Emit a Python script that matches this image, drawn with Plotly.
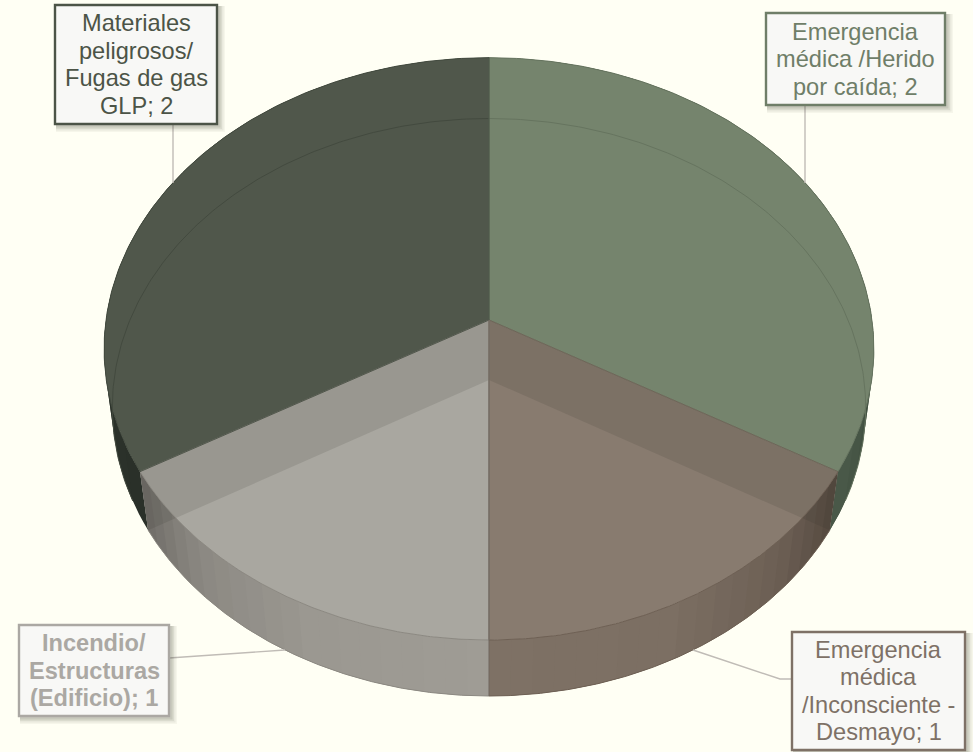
import numpy as np
import plotly.graph_objects as go

# ---- data ----
categories = ["Emergencia médica /Herido por caída", "Emergencia médica /Inconsciente - Desmayo",
              "Incendio/ Estructuras (Edificio)", "Materiales peligrosos/ Fugas de gas GLP"]
values = [2, 1, 1, 2]
label_lines = [["Emergencia", "médica /Herido", "por caída; 2"],
               ["Emergencia", "médica", "/Inconsciente -", "Desmayo; 1"],
               ["Incendio/", "Estructuras", "(Edificio); 1"],
               ["Materiales", "peligrosos/", "Fugas de gas", "GLP; 2"]]

# ---- styles ----
BG = "#FFFFF4"
face_colors = ["#75846D", "#887B6F", "#A9A7A0", "#50574B"]
rim_colors = ["#66745F", "#6E6054", "#8C8982", "#434A3F"]
text_colors = ["#6F7E68", "#7E7166", "#ABA8A3", "#4C5447"]
wall_stops = [[(0, "#4D5D4C"), (60, "#2F382E"), (120, "#4A5A49")],
              [(120, "#55493F"), (135, "#6C5F54"), (155, "#7C6F63"), (180, "#7E7165")],
              [(180, "#9F9C95"), (205, "#9B9891"), (225, "#8B8882"), (240, "#6F6C67")],
              [(240, "#2A3029"), (300, "#2F382E"), (360, "#4D5D4C")]]
boxes = [(766, 945, 13, 105), (792, 965, 632, 750), (19, 169, 625, 716), (55, 217, 5, 124)]
leaders = [([805, 805], [105, 183]), ([792, 780, 693], [679, 679, 650]),
           ([169, 285], [658, 650]), ([173, 173], [124, 183])]
FONT = "Liberation Sans"
FONT_PX = 23.6
LINE_PX = 27.5

# perspective disc projections of the pie's top and bottom faces
CX = 489
TOP = dict(a=383, b=256.6, c=320, k=0.0991)
BOT = dict(a=375, b=250.3, c=380, k=0.0944)


def proj(face, theta_deg, r=1.0):
    t = np.radians(theta_deg)
    u, v = r * np.sin(t), r * np.cos(t)
    d = 1 + face["k"] * v
    return CX + face["a"] * u / d, (face["c"] - face["b"] * v) / d


def hex_rgb(h):
    return np.array([int(h[i:i + 2], 16) for i in (1, 3, 5)], float)


def wall_colour(stops, ang):
    xs = [s[0] for s in stops]
    rgb = [np.interp(ang, xs, [hex_rgb(s[1])[i] for s in stops]) for i in range(3)]
    return "#%02X%02X%02X" % tuple(int(round(c)) for c in rgb)


fig = go.Figure()


def poly(xs, ys, fill, width=0.0):
    fig.add_trace(go.Scatter(x=list(xs), y=list(ys), mode="lines", fill="toself", fillcolor=fill,
                             line=dict(color=fill, width=width), hoverinfo="skip", showlegend=False))


def stroke(xs, ys, colour, width=1.0):
    fig.add_trace(go.Scatter(x=list(xs), y=list(ys), mode="lines", line=dict(color=colour, width=width),
                             hoverinfo="skip", showlegend=False))


edges = np.concatenate([[0], np.cumsum(values)]) * 360.0 / np.sum(values)
spans = list(zip(edges[:-1], edges[1:]))


def wall_segments(i, step=3.0):
    a0, a1 = spans[i]
    n = int(round((a1 - a0) / step))
    ts = np.linspace(a0, a1, n + 1)
    # drawn from one end to the other with overlap, so no seams appear between the shades
    for s0, s1 in zip(ts[:-1], ts[1:]):
        arc = np.linspace(s0, min(s1 + step, a1), 8)
        tx, ty = proj(TOP, arc)
        bx, by = proj(BOT, arc)
        poly(np.r_[tx, bx[::-1], tx[0]], np.r_[ty, by[::-1], ty[0]],
             wall_colour(wall_stops[i], (s0 + s1) / 2))


# back (green) walls, only their sliver outside the top face shows
for i in (0, 3):
    wall_segments(i, 6.0)

# top faces
for i, (a0, a1) in enumerate(spans):
    arc = np.linspace(a0, a1, 160)
    x, y = proj(TOP, arc)
    poly(np.r_[CX, x, CX], np.r_[TOP["c"], y, TOP["c"]], face_colors[i])

# front walls
for i in (1, 2):
    wall_segments(i)

# radial cut faces seen through the translucent front slices
for i, edge in ((1, spans[1][0]), (2, spans[2][1])):
    tx, ty = proj(TOP, edge)
    bx, by = proj(BOT, edge)
    poly([CX, tx, bx, CX, CX], [TOP["c"], ty, by, BOT["c"], TOP["c"]], "rgba(50,45,35,0.13)")

# back rim of bottom face, seen through the green slices
for i in (0, 3):
    x, y = proj(BOT, np.linspace(spans[i][0], spans[i][1], 160))
    keep = y < proj(TOP, 120)[1] + 30
    stroke(x[keep], y[keep], rim_colors[i], 1.0)

# top-face front rim, outer outline and sector borders
for i, (a0, a1) in enumerate(spans):
    arc = np.linspace(a0, a1, 160)
    tx, ty = proj(TOP, arc)
    bx, by = proj(BOT, arc)
    stroke(tx, ty, rim_colors[i], 1.0)
    if i in (1, 2):
        stroke(bx, by, rim_colors[i], 1.0)
    for a in (a0, a1):
        ex, ey = proj(TOP, a)
        stroke([CX, ex], [TOP["c"], ey], rim_colors[i], 0.8)
# vertical seam at the front of the pie
sx, sy = proj(BOT, edges[2])
stroke([CX, CX], [TOP["c"], sy], "#6E675E", 1.0)

# leader lines
for lx, ly in leaders:
    stroke(lx, ly, "#C0BCB6", 1.4)

# label boxes
shapes, annotations = [], []
for i, (x0, x1, y0, y1) in enumerate(boxes):
    for grow, alpha in ((6, 0.05), (4.5, 0.07), (3, 0.09), (1.5, 0.12)):
        shapes.append(dict(type="rect", layer="above", x0=x0 + 1, x1=x1 + 2 + grow, y0=y0 + 1, y1=y1 + 2 + grow,
                           fillcolor=f"rgba(70,75,60,{alpha})", line=dict(width=0)))
    shapes.append(dict(type="rect", layer="above", x0=x0, x1=x1, y0=y0, y1=y1, fillcolor="#F8F8F6",
                       line=dict(color=text_colors[i], width=2.4)))
    lines = label_lines[i]
    mid = (y0 + y1) / 2
    for j, t in enumerate(lines):
        yc = mid + (j - (len(lines) - 1) / 2) * LINE_PX
        txt = f"<b>{t}</b>" if i == 2 else t
        annotations.append(dict(x=(x0 + x1) / 2, y=yc, xref="x", yref="y", text=txt, showarrow=False,
                                xanchor="center", yanchor="middle",
                                font=dict(family=FONT, size=FONT_PX, color=text_colors[i])))

fig.update_layout(width=973, height=752, margin=dict(l=0, r=0, t=0, b=0), autosize=False,
                  paper_bgcolor=BG, plot_bgcolor=BG, showlegend=False, shapes=shapes, annotations=annotations,
                  xaxis=dict(range=[0, 973], visible=False, fixedrange=True),
                  yaxis=dict(range=[752, 0], visible=False, fixedrange=True))
fig.write_html("out.html", config=dict(displayModeBar=False),
               post_script="document.body.style.margin='0';document.body.style.overflow='hidden';"
                           f"document.body.style.background='{BG}';")
